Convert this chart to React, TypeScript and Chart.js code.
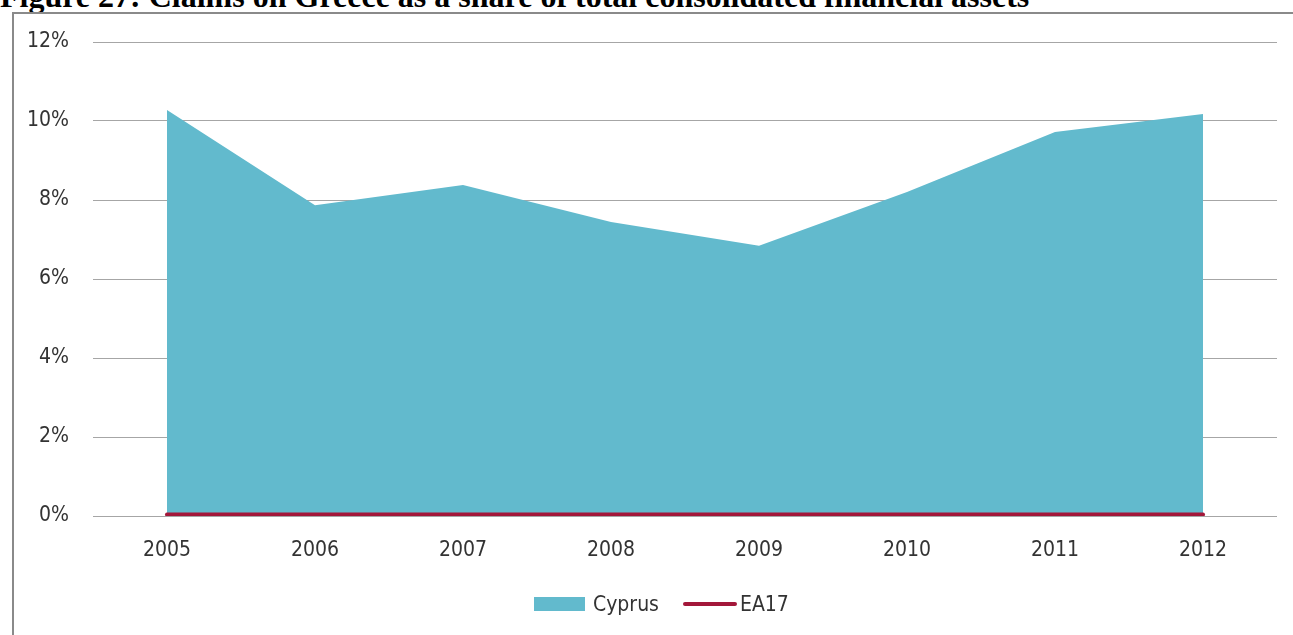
import React, { useEffect, useRef } from "react";
import Chart from "chart.js/auto";

const years = ["2005", "2006", "2007", "2008", "2009", "2010", "2011", "2012"];
const cyprus = [10.28, 7.87, 8.38, 7.44, 6.84, 8.2, 9.72, 10.18];
const ea17 = [0.04, 0.04, 0.04, 0.04, 0.04, 0.04, 0.04, 0.04];
const yTicks = [0, 2, 4, 6, 8, 10, 12];

const TITLE = "Figure 27: Claims on Greece as a share of total consolidated financial assets";
const CYPRUS_COLOR = "#62BACD";
const EA_COLOR = "#A3173A";
const FONT = "'DejaVu Sans Condensed', 'DejaVu Sans', sans-serif";

export default function App() {
  const ref = useRef<HTMLCanvasElement | null>(null);

  useEffect(() => {
    if (!ref.current) return;
    const chart = new Chart(ref.current, {
      type: "line",
      data: {
        labels: years,
        datasets: [
          {
            label: "EA17",
            data: ea17,
            borderColor: EA_COLOR,
            borderWidth: 4,
            borderCapStyle: "round",
            pointRadius: 0,
            fill: false,
            tension: 0,
            order: 0,
          },
          {
            label: "Cyprus",
            data: cyprus,
            backgroundColor: CYPRUS_COLOR,
            borderColor: CYPRUS_COLOR,
            borderWidth: 0,
            pointRadius: 0,
            fill: "origin",
            tension: 0,
            order: 1,
          },
        ],
      },
      options: {
        animation: false,
        responsive: false,
        maintainAspectRatio: false,
        layout: { padding: { left: 0, right: 16, top: 28, bottom: 0 } },
        plugins: {
          legend: { display: false },
          title: { display: false },
          tooltip: { enabled: false },
        },
        scales: {
          x: {
            type: "category",
            offset: true,
            grid: { display: false, drawTicks: false },
            border: { display: false },
            ticks: {
              color: "#333333",
              font: { family: FONT, size: 21 },
              padding: 22,
              maxRotation: 0,
            },
            afterFit: (s: any) => {
              s.height = 119;
            },
          },
          y: {
            min: 0,
            max: 12,
            afterBuildTicks: (s: any) => {
              s.ticks = yTicks.map((v) => ({ value: v }));
            },
            grid: { color: "#a6a6a6", lineWidth: 1, drawTicks: false },
            border: { display: false },
            ticks: {
              color: "#333333",
              font: { family: FONT, size: 21 },
              padding: 24,
              callback: (v: any) => `${v}%`,
            },
            afterFit: (s: any) => {
              s.width = 79;
              s.paddingTop = 0;
              s.paddingBottom = 0;
            },
          },
        },
      },
    });
    return () => chart.destroy();
  }, []);

  return (
    <div
      style={{
        position: "fixed",
        left: 0,
        top: 0,
        width: 1293,
        height: 635,
        overflow: "hidden",
        background: "#ffffff",
      }}
    >
      <div
        style={{
          position: "absolute",
          left: 0,
          top: -20,
          whiteSpace: "nowrap",
          fontFamily: "'Liberation Serif', 'Times New Roman', serif",
          fontWeight: "bold",
          fontSize: 32,
          lineHeight: "32px",
          color: "#000",
        }}
      >
        {TITLE}
      </div>
      <div
        style={{
          position: "absolute",
          left: 12,
          top: 12,
          width: 1400,
          height: 800,
          borderLeft: "2px solid #8a8a8a",
          borderTop: "2px solid #8a8a8a",
          background: "#ffffff",
        }}
      />
      <canvas
        ref={ref}
        width={1279}
        height={621}
        style={{ position: "absolute", left: 14, top: 14, width: 1279, height: 621 }}
      />
      <div
        style={{
          position: "absolute",
          left: 534,
          top: 590,
          height: 28,
          display: "flex",
          alignItems: "center",
          fontFamily: FONT,
          fontSize: 21,
          color: "#333333",
          whiteSpace: "nowrap",
        }}
      >
        <span style={{ display: "inline-block", width: 51, height: 14, background: CYPRUS_COLOR, marginRight: 8 }} />
        <span>Cyprus</span>
        <span
          style={{
            display: "inline-block",
            width: 54,
            height: 4,
            borderRadius: 2,
            background: EA_COLOR,
            marginLeft: 24,
            marginRight: 3,
          }}
        />
        <span>EA17</span>
      </div>
    </div>
  );
}
